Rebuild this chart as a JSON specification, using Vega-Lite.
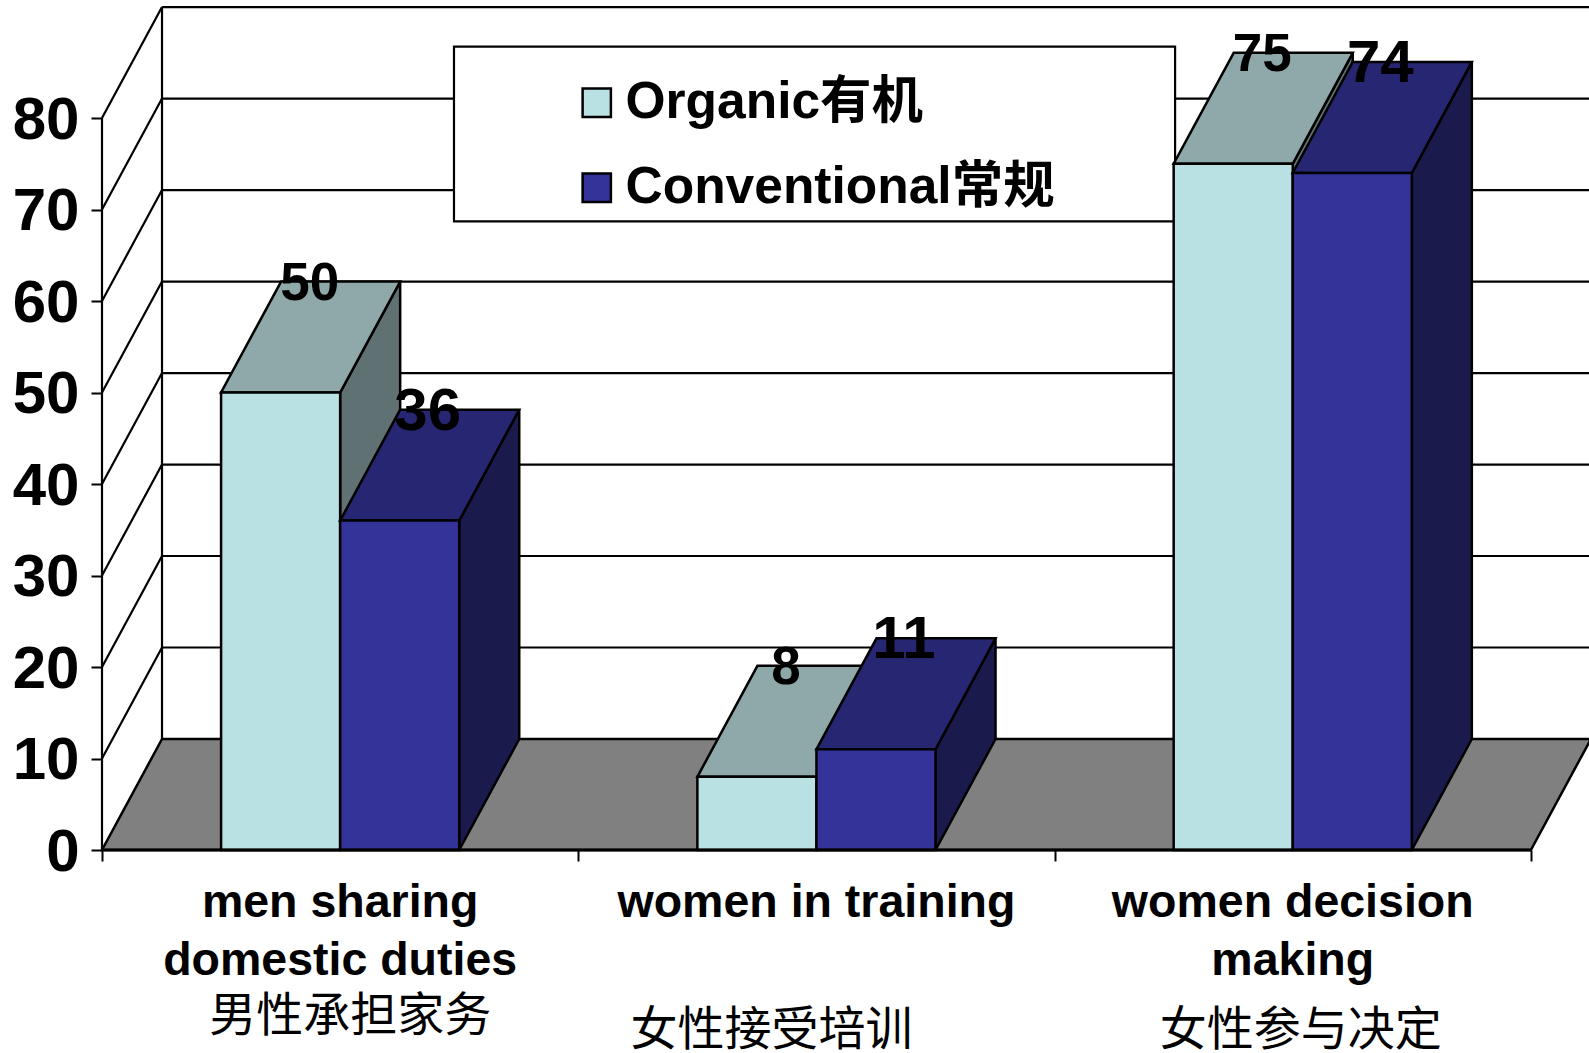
{
  "$schema": "https://vega.github.io/schema/vega-lite/v6.json",
  "autosize": {"type": "none"},
  "padding": {"left": 102, "top": 0, "right": 0, "bottom": 203},
  "width": 1487,
  "height": 850,
  "background": "white",
  "config": {"view": {"stroke": null}},
  "resolve": {"axis": {"x": "independent", "y": "independent"}},
  "datasets": {
    "bars": [
      {"category": "men sharing domestic duties", "group": 0, "slot": 0, "series": "Organic有机", "value": 50},
      {"category": "men sharing domestic duties", "group": 0, "slot": 1, "series": "Conventional常规", "value": 36},
      {"category": "women in training", "group": 1, "slot": 0, "series": "Organic有机", "value": 8},
      {"category": "women in training", "group": 1, "slot": 1, "series": "Conventional常规", "value": 11},
      {"category": "women decision making", "group": 2, "slot": 0, "series": "Organic有机", "value": 75},
      {"category": "women decision making", "group": 2, "slot": 1, "series": "Conventional常规", "value": 74}
    ],
    "ticks": [
      {"tick": 0}, {"tick": 10}, {"tick": 20}, {"tick": 30}, {"tick": 40},
      {"tick": 50}, {"tick": 60}, {"tick": 70}, {"tick": 80}
    ],
    "floor": [{"depth": 0}, {"depth": 1}],
    "categories": [
      {"group": 0, "english": "men sharing\ndomestic duties", "chinese": "男性承担家务"},
      {"group": 1, "english": "women in training", "chinese": "女性接受培训"},
      {"group": 2, "english": "women decision\nmaking", "chinese": "女性参与决定"}
    ]
  },
  "layer": [
    {
      "data": {"name": "floor"},
      "transform": [
        {"calculate": "datum.depth * 0.126", "as": "x0"},
        {"calculate": "3 + datum.depth * 0.126", "as": "x1"},
        {"calculate": "datum.depth * 12.13", "as": "yy"}
      ],
      "mark": {"type": "area", "orient": "horizontal", "fill": "#808080", "stroke": "black", "strokeWidth": 2.5},
      "encoding": {
        "x": {
          "field": "x0", "type": "quantitative",
          "scale": {"domain": [0, 3.122], "nice": false, "zero": false},
          "title": null,
          "axis": {"values": [0, 1, 2, 3], "labels": false, "domain": false, "grid": false, "tickSize": 11, "tickWidth": 2, "tickColor": "black"}
        },
        "x2": {"field": "x1"},
        "y": {
          "field": "yy", "type": "quantitative",
          "scale": {"domain": [0, 92.9], "nice": false, "zero": false},
          "title": null,
          "axis": {
            "values": [0, 10, 20, 30, 40, 50, 60, 70, 80], "domain": false, "grid": false,
            "tickSize": 11, "tickWidth": 2, "tickColor": "black", "labelPadding": 12, "labelOffset": 2,
            "labelFont": "Liberation Sans", "labelFontWeight": "bold", "labelFontSize": 60, "labelColor": "black"
          }
        }
      }
    },
    {
      "data": {"name": "ticks"},
      "transform": [
        {"filter": "datum.tick > 0"},
        {"calculate": "datum.tick + 12.13", "as": "backY"},
        {"calculate": "0.126", "as": "backX"},
        {"calculate": "3.122", "as": "rightX"},
        {"calculate": "0", "as": "frontX"}
      ],
      "layer": [
        {
          "mark": {"type": "rule", "stroke": "black", "strokeWidth": 2.2},
          "encoding": {
            "x": {"field": "backX", "type": "quantitative", "axis": null},
            "x2": {"field": "rightX"},
            "y": {"field": "backY", "type": "quantitative", "axis": null}
          }
        },
        {
          "mark": {"type": "rule", "stroke": "black", "strokeWidth": 2.2},
          "encoding": {
            "x": {"field": "frontX", "type": "quantitative", "axis": null},
            "x2": {"field": "backX"},
            "y": {"field": "tick", "type": "quantitative", "axis": null},
            "y2": {"field": "backY"}
          }
        }
      ]
    },
    {
      "data": {"values": [{}]},
      "layer": [
        {
          "mark": {"type": "rule", "stroke": "black", "strokeWidth": 2.2},
          "encoding": {
            "x": {"datum": 0.126, "type": "quantitative", "axis": null},
            "y": {"datum": 12.13, "type": "quantitative", "axis": null},
            "y2": {"datum": 92.13}
          }
        },
        {
          "mark": {"type": "rect", "fill": "white", "stroke": "black", "strokeWidth": 2.2},
          "encoding": {
            "x": {"datum": 0.739, "type": "quantitative", "axis": null},
            "x2": {"datum": 2.253},
            "y": {"datum": 87.8, "type": "quantitative", "axis": null},
            "y2": {"datum": 68.7}
          }
        }
      ]
    },
    {
      "data": {"name": "bars"},
      "transform": [
        {"calculate": "datum.group + 0.25 + datum.slot * 0.25", "as": "left"},
        {"calculate": "datum.left + 0.25", "as": "right"},
        {"calculate": "[0, 1]", "as": "depth"},
        {"flatten": ["depth"]},
        {"calculate": "datum.depth * 12.13", "as": "rise"},
        {"calculate": "datum.depth * 0.126", "as": "shift"},
        {"calculate": "datum.right + datum.shift", "as": "sideX"},
        {"calculate": "datum.left + datum.shift", "as": "topX"},
        {"calculate": "datum.value + datum.rise", "as": "upper"},
        {"calculate": "0", "as": "base"},
        {"calculate": "(datum.topX + datum.sideX - datum.shift) / 2", "as": "labelX"}
      ],
      "layer": [
        {
          "transform": [{"filter": "datum.slot == 0"}],
          "mark": {"type": "area", "fill": "#5F7172", "stroke": "black", "strokeWidth": 2.5},
          "encoding": {
            "x": {"field": "sideX", "type": "quantitative", "axis": null},
            "y": {"field": "upper", "type": "quantitative", "axis": null},
            "y2": {"field": "rise"},
            "detail": {"field": "category"}
          }
        },
        {
          "transform": [{"filter": "datum.slot == 0"}],
          "mark": {"type": "area", "orient": "horizontal", "fill": "#8FA9AB", "stroke": "black", "strokeWidth": 2.5},
          "encoding": {
            "y": {"field": "upper", "type": "quantitative", "axis": null},
            "x": {"field": "topX", "type": "quantitative", "axis": null},
            "x2": {"field": "sideX"},
            "detail": {"field": "category"}
          }
        },
        {
          "transform": [{"filter": "datum.slot == 0 && datum.depth == 0"}],
          "mark": {"type": "rect", "stroke": "black", "strokeWidth": 2.5},
          "encoding": {
            "x": {"field": "left", "type": "quantitative", "axis": null},
            "x2": {"field": "right"},
            "y": {"field": "value", "type": "quantitative", "axis": null},
            "y2": {"field": "base"},
            "color": {
              "field": "series", "type": "nominal",
              "scale": {"domain": ["Organic有机", "Conventional常规"], "range": ["#B9E0E3", "#333399"]},
              "sort": null,
              "legend": {
                "orient": "none", "legendX": 469, "legendY": 77, "title": null,
                "symbolType": "square", "symbolSize": 800, "symbolStrokeColor": "black", "symbolStrokeWidth": 2.5,
                "labelFont": "Liberation Sans, Noto Sans CJK SC", "labelFontWeight": "bold", "labelFontSize": 51.5,
                "labelColor": "black", "labelOffset": 3, "labelLimit": 600, "rowPadding": 32, "padding": 0
              }
            }
          }
        },
        {
          "transform": [{"filter": "datum.slot == 1"}],
          "mark": {"type": "area", "fill": "#1A1A4D", "stroke": "black", "strokeWidth": 2.5},
          "encoding": {
            "x": {"field": "sideX", "type": "quantitative", "axis": null},
            "y": {"field": "upper", "type": "quantitative", "axis": null},
            "y2": {"field": "rise"},
            "detail": {"field": "category"}
          }
        },
        {
          "transform": [{"filter": "datum.slot == 1"}],
          "mark": {"type": "area", "orient": "horizontal", "fill": "#262673", "stroke": "black", "strokeWidth": 2.5},
          "encoding": {
            "y": {"field": "upper", "type": "quantitative", "axis": null},
            "x": {"field": "topX", "type": "quantitative", "axis": null},
            "x2": {"field": "sideX"},
            "detail": {"field": "category"}
          }
        },
        {
          "transform": [{"filter": "datum.slot == 1 && datum.depth == 0"}],
          "mark": {"type": "rect", "stroke": "black", "strokeWidth": 2.5},
          "encoding": {
            "x": {"field": "left", "type": "quantitative", "axis": null},
            "x2": {"field": "right"},
            "y": {"field": "value", "type": "quantitative", "axis": null},
            "y2": {"field": "base"},
            "color": {"field": "series", "type": "nominal", "sort": null}
          }
        },
        {
          "transform": [{"filter": "datum.depth == 1 && datum.slot == 0"}],
          "mark": {
            "type": "text", "font": "Liberation Sans", "fontWeight": "bold", "fontSize": 53,
            "baseline": "middle", "align": "center", "color": "black", "dx": -1, "dy": 2
          },
          "encoding": {
            "x": {"field": "labelX", "type": "quantitative", "axis": null},
            "y": {"field": "upper", "type": "quantitative", "axis": null},
            "text": {"field": "value", "type": "quantitative"}
          }
        },
        {
          "transform": [{"filter": "datum.depth == 1 && datum.slot == 1"}],
          "mark": {
            "type": "text", "font": "Liberation Sans", "fontWeight": "bold", "fontSize": 60,
            "baseline": "middle", "align": "center", "color": "black", "dx": -2, "dy": 2
          },
          "encoding": {
            "x": {"field": "labelX", "type": "quantitative", "axis": null},
            "y": {"field": "upper", "type": "quantitative", "axis": null},
            "text": {"field": "value", "type": "quantitative"}
          }
        }
      ]
    },
    {
      "data": {"values": [{}]},
      "layer": [
        {
          "mark": {"type": "rule", "stroke": "black", "strokeWidth": 2.2},
          "encoding": {
            "x": {"datum": 0, "type": "quantitative", "axis": null},
            "y": {"datum": 0, "type": "quantitative", "axis": null},
            "y2": {"datum": 80}
          }
        },
        {
          "mark": {"type": "rule", "stroke": "black", "strokeWidth": 3},
          "encoding": {
            "x": {"datum": 0, "type": "quantitative", "axis": null},
            "x2": {"datum": 3},
            "y": {"datum": 0, "type": "quantitative", "axis": null}
          }
        }
      ]
    },
    {
      "data": {"name": "categories"},
      "transform": [
        {"calculate": "datum.group + 0.5", "as": "center"},
        {"calculate": "0", "as": "base"}
      ],
      "layer": [
        {
          "mark": {
            "type": "text", "font": "Liberation Sans", "fontWeight": "bold", "fontSize": 46.5,
            "baseline": "top", "align": "center", "color": "black", "lineBreak": "\n", "lineHeight": 58, "dy": 30
          },
          "encoding": {
            "x": {"field": "center", "type": "quantitative", "axis": null},
            "y": {"field": "base", "type": "quantitative", "axis": null},
            "text": {"field": "english", "type": "nominal"}
          }
        },
        {
          "transform": [{"filter": "datum.group == 0"}],
          "mark": {"type": "text", "font": "Noto Sans CJK SC", "fontSize": 47, "baseline": "middle", "align": "center", "color": "black", "dx": 10, "dy": 167},
          "encoding": {
            "x": {"field": "center", "type": "quantitative", "axis": null},
            "y": {"field": "base", "type": "quantitative", "axis": null},
            "text": {"field": "chinese", "type": "nominal"}
          }
        },
        {
          "transform": [{"filter": "datum.group == 1"}],
          "mark": {"type": "text", "font": "Noto Sans CJK SC", "fontSize": 47, "baseline": "middle", "align": "center", "color": "black", "dx": -45, "dy": 181},
          "encoding": {
            "x": {"field": "center", "type": "quantitative", "axis": null},
            "y": {"field": "base", "type": "quantitative", "axis": null},
            "text": {"field": "chinese", "type": "nominal"}
          }
        },
        {
          "transform": [{"filter": "datum.group == 2"}],
          "mark": {"type": "text", "font": "Noto Sans CJK SC", "fontSize": 47, "baseline": "middle", "align": "center", "color": "black", "dx": 8, "dy": 181},
          "encoding": {
            "x": {"field": "center", "type": "quantitative", "axis": null},
            "y": {"field": "base", "type": "quantitative", "axis": null},
            "text": {"field": "chinese", "type": "nominal"}
          }
        }
      ]
    }
  ]
}
